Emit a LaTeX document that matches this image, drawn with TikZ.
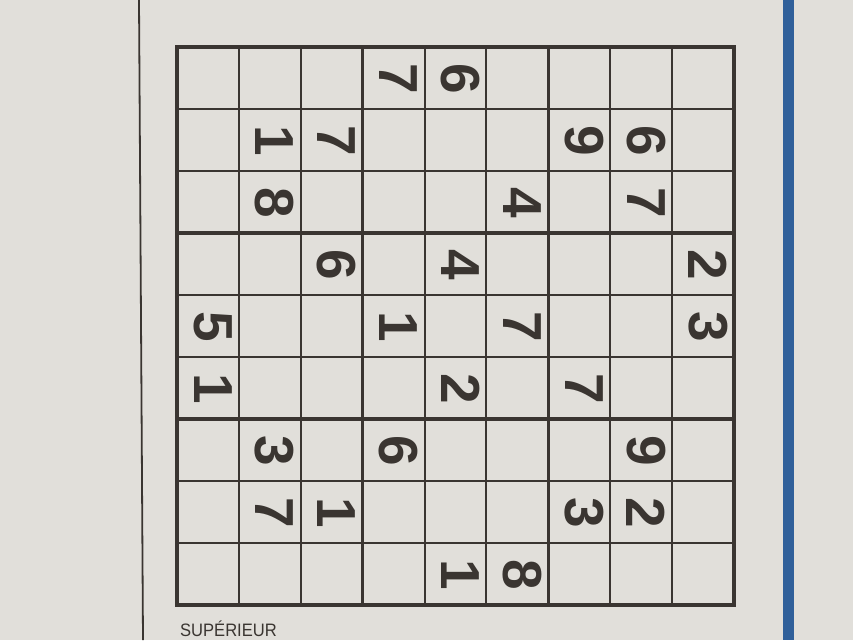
\documentclass[tikz,border=0pt]{standalone}
\usepackage{fontspec}
\setmainfont{Liberation Sans}
\definecolor{paper}{HTML}{E1DFDA}
\definecolor{ink}{HTML}{3A3531}
\definecolor{bluerule}{HTML}{30609A}
\begin{document}
\begin{tikzpicture}[x=1pt,y=-1pt,
  gridthin/.style={draw=ink,line width=2pt},
  gridthick/.style={draw=ink,line width=3.6pt},
  digit/.style={text=ink,font=\fontsize{55}{55}\selectfont\bfseries,rotate=-90,inner sep=0pt},
  caption/.style={text=ink,font=\fontsize{18}{18}\selectfont,xscale=0.92,inner sep=0pt,anchor=base west}]
\useasboundingbox (0,0) rectangle (853,640);
\clip (0,0) rectangle (853,640);
\fill[paper] (0,0) rectangle (853,640);
% page rules
\draw[ink,line width=1.8pt] (139,0) -- (143,640);
\fill[bluerule] (783,0) rectangle (794,640);
% grid
\foreach \i in {1,2,4,5,7,8} {
  \draw[gridthin] ({177+61.89*\i},47) -- ({177+61.89*\i},605);
  \draw[gridthin] (177,{47+62*\i}) -- (734,{47+62*\i});
}
\foreach \i in {3,6} {
  \draw[gridthick] ({177+61.89*\i},47) -- ({177+61.89*\i},605);
  \draw[gridthick] (177,{47+62*\i}) -- (734,{47+62*\i});
}
\draw[gridthick,line width=4pt] (177,47) rectangle (734,605);
% digits (printed sideways)
\foreach \r/\c/\d in {0/3/7,0/4/6,
  1/1/1,1/2/7,1/6/9,1/7/6,
  2/1/8,2/5/4,2/7/7,
  3/2/6,3/4/4,3/8/2,
  4/0/5,4/3/1,4/5/7,4/8/3,
  5/0/1,5/4/2,5/6/7,
  6/1/3,6/3/6,6/7/9,
  7/1/7,7/2/1,7/6/3,7/7/2,
  8/4/1,8/5/8} {
  \node[digit,name=d\r\c] at ({177+61.89*(\c+0.5)+5},{47+62*(\r+0.5)+1}) {\d};
}
\node[caption,name=level] at (180,636) {SUPÉRIEUR};
\end{tikzpicture}
\end{document}
